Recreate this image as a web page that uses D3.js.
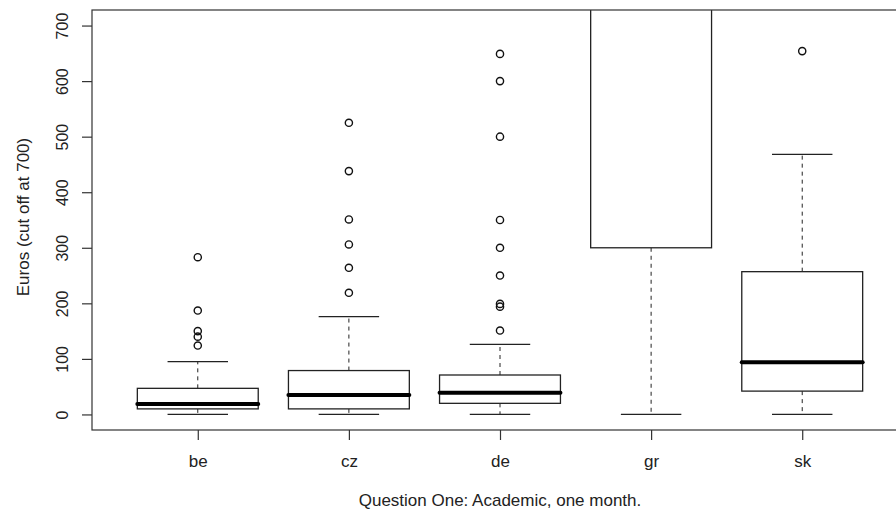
<!DOCTYPE html>
<html>
<head>
<meta charset="utf-8">
<script src="https://cdn.jsdelivr.net/npm/d3@7"></script>
<style>
  body { margin: 0; background: #fff; }
  text { font-family: "Liberation Sans", Arial, sans-serif; fill: #222; }
</style>
</head>
<body>
<svg width="896" height="512"></svg>
<script>
// values (euros, gr box runs past the 700 cut)
var categories = ["be", "cz", "de", "gr", "sk"];
var lowerWhisker = [0, 0, 0, 0, 0];
var q1 = [10, 10, 20, 300, 42];
var medians = [19, 35, 39, 800, 94];
var q3 = [47, 79, 71, 1000, 257];
var upperWhisker = [95, 176, 126, 1500, 468];
var outliers = [
  [124, 140, 150, 187, 283],
  [219, 264, 306, 351, 438, 525],
  [151, 194, 199, 250, 300, 350, 500, 600, 649],
  [],
  [654]
];
var yTicks = [0, 100, 200, 300, 400, 500, 600, 700];

var svg = d3.select("svg"),
    margin = {top: 10, right: -12, bottom: 82, left: 92},
    width = +svg.attr("width") - margin.left - margin.right,
    height = +svg.attr("height") - margin.top - margin.bottom;

// R style: 4% padding around [0.5, 5.5] and [0, 700]
var x = d3.scaleLinear().domain([0.3, 5.7]).range([0, width]),
    y = d3.scaleLinear().domain([-28, 728]).range([height, 0]);

var boxW = x(1.8) - x(1),
    capW = boxW / 2;

var g = svg.append("g")
    .attr("transform", "translate(" + margin.left + "," + margin.top + ")");

g.append("clipPath")
    .attr("id", "plotclip")
  .append("rect")
    .attr("width", width)
    .attr("height", height);

var data = categories.map(function(c, i) {
  return {
    name: c, pos: i + 1,
    lo: lowerWhisker[i], q1: q1[i], med: medians[i], q3: q3[i], hi: upperWhisker[i],
    out: outliers[i]
  };
});

var plot = g.append("g").attr("clip-path", "url(#plotclip)");

var box = plot.selectAll(".box")
  .data(data)
  .enter().append("g")
    .attr("class", "box");

// dashed whiskers
box.append("line")
    .attr("x1", function(d) { return x(d.pos); })
    .attr("x2", function(d) { return x(d.pos); })
    .attr("y1", function(d) { return y(d.q3); })
    .attr("y2", function(d) { return y(d.hi); })
    .attr("stroke", "#222")
    .attr("stroke-dasharray", "4,4");
box.append("line")
    .attr("x1", function(d) { return x(d.pos); })
    .attr("x2", function(d) { return x(d.pos); })
    .attr("y1", function(d) { return y(d.q1); })
    .attr("y2", function(d) { return y(d.lo); })
    .attr("stroke", "#222")
    .attr("stroke-dasharray", "4,4");

// staples
["lo", "hi"].forEach(function(k) {
  box.append("line")
      .attr("x1", function(d) { return x(d.pos) - capW / 2; })
      .attr("x2", function(d) { return x(d.pos) + capW / 2; })
      .attr("y1", function(d) { return y(d[k]); })
      .attr("y2", function(d) { return y(d[k]); })
      .attr("stroke", "#222")
      .attr("stroke-width", 1.3);
});

box.append("rect")
    .attr("x", function(d) { return x(d.pos) - boxW / 2; })
    .attr("y", function(d) { return y(d.q3); })
    .attr("width", boxW)
    .attr("height", function(d) { return y(d.q1) - y(d.q3); })
    .attr("fill", "#fff")
    .attr("stroke", "#222")
    .attr("stroke-width", 1.3);

box.append("line")
    .attr("x1", function(d) { return x(d.pos) - boxW / 2; })
    .attr("x2", function(d) { return x(d.pos) + boxW / 2; })
    .attr("y1", function(d) { return y(d.med); })
    .attr("y2", function(d) { return y(d.med); })
    .attr("stroke", "#000")
    .attr("stroke-width", 4)
    .attr("stroke-linecap", "round");

box.selectAll(".out")
  .data(function(d) { return d.out.map(function(v) { return {pos: d.pos, v: v}; }); })
  .enter().append("circle")
    .attr("class", "out")
    .attr("cx", function(d) { return x(d.pos); })
    .attr("cy", function(d) { return y(d.v); })
    .attr("r", 3.6)
    .attr("fill", "none")
    .attr("stroke", "#111")
    .attr("stroke-width", 1.4);

// frame
g.append("rect")
    .attr("width", width)
    .attr("height", height)
    .attr("fill", "none")
    .attr("stroke", "#333")
    .attr("stroke-width", 1.2);

var yAxis = g.append("g")
    .call(d3.axisLeft(y).tickValues(yTicks).tickSize(10).tickSizeOuter(0));
yAxis.select(".domain").remove();
yAxis.selectAll("line").attr("stroke", "#333").attr("stroke-width", 1.2);
yAxis.selectAll("text")
    .attr("x", 0)
    .attr("dy", 0)
    .attr("transform", "translate(-24,0) rotate(-90)")
    .style("text-anchor", "middle")
    .style("font-size", "16px")
    .style("font-family", null);

var xAxis = g.append("g")
    .attr("transform", "translate(0," + height + ")")
    .call(d3.axisBottom(x).tickValues([1, 2, 3, 4, 5])
      .tickFormat(function(d) { return categories[d - 1]; })
      .tickSize(10).tickSizeOuter(0));
xAxis.select(".domain").remove();
xAxis.selectAll("line").attr("stroke", "#333").attr("stroke-width", 1.2);
xAxis.selectAll("text")
    .attr("y", 37)
    .attr("dy", 0)
    .style("font-size", "17px")
    .style("font-family", null);

g.append("text")
    .attr("transform", "translate(-63," + (height / 2 - 3) + ") rotate(-90)")
    .attr("text-anchor", "middle")
    .style("font-size", "17px")
    .text("Euros (cut off at 700)");

g.append("text")
    .attr("x", width / 2)
    .attr("y", height + 76)
    .attr("text-anchor", "middle")
    .style("font-size", "17px")
    .text("Question One: Academic, one month.");
</script>
</body>
</html>
